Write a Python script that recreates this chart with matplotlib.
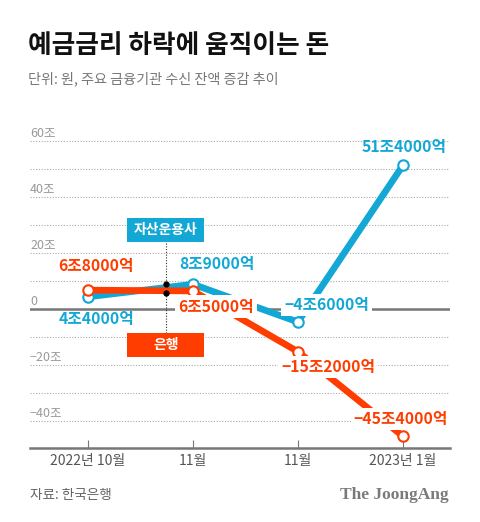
import matplotlib
matplotlib.use("Agg")
import matplotlib.pyplot as plt
from matplotlib.patches import Rectangle

plt.rcParams['font.family'] = ['Noto Sans CJK KR', 'DejaVu Sans']

months = ["2022년 10월", "11월", "11월", "2023년 1월"]
asset_mgmt = [4.4, 8.9, -4.6, 51.4]      # 자산운용사 (조원)
banks = [6.8, 6.5, -15.2, -45.4]          # 은행 (조원)
asset_labels = ["4조4000억", "8조9000억", "−4조6000억", "51조4000억"]
bank_labels = ["6조8000억", "6조5000억", "−15조2000억", "−45조4000억"]
yticks = [60, 40, 20, 0, -20, -40]
ytick_labels = ["60조", "40조", "20조", "0", "−20조", "−40조"]

BLUE = "#12a7d5"
RED = "#ff3d00"
GRAY = "#777777"

fig = plt.figure(figsize=(4.8, 5.22), dpi=100)
ax = fig.add_axes([30/480, (522-448)/522, 420/480, 318/522])
ax.set_xlim(-0.552, 3.448)
ax.set_ylim(-49.6, 64)

# grid lines
for v in range(-40, 61, 10):
    if v == 0:
        continue
    ax.axhline(v, color="#aaaaaa", lw=0.8, ls=(0, (1, 1.5)), zorder=1)
ax.axhline(0, color=GRAY, lw=1.8, zorder=1)

for v, lab in zip(yticks, ytick_labels):
    ax.text(0, v + 2.6, lab, transform=ax.get_yaxis_transform(), ha="left", va="center",
            fontsize=9, color="#999999")

x = list(range(len(months)))

# vertical marker line
vx = 0.743
ax.plot([vx, vx], [-8.5, 24], color="#333333", lw=0.8, ls=(0, (1, 1.5)), zorder=2)

ax.plot(x, asset_mgmt, color=BLUE, lw=4.8, solid_capstyle="butt", zorder=3)
ax.plot(x, banks, color=RED, lw=4.8, solid_capstyle="butt", zorder=4)
ax.plot(x, asset_mgmt, ls="none", marker="o", ms=7.5, mfc="white", mec=BLUE, mew=1.5, zorder=6)
ax.plot(x, banks, ls="none", marker="o", ms=7.5, mfc="white", mec=RED, mew=1.5, zorder=6)

# black dots on vertical line
b_y = asset_mgmt[0] + (asset_mgmt[1] - asset_mgmt[0]) * vx
r_y = banks[0] + (banks[1] - banks[0]) * vx
ax.plot([vx, vx], [b_y + 1.2, r_y - 0.9], ls="none", marker="o", ms=3.5, color="black", zorder=7)

# series name boxes
bw, bh = 0.733, 8.6
ax.add_patch(Rectangle((vx - bw/2, 28.2 - bh/2), bw, bh, fc=BLUE, ec="none", zorder=8))
ax.add_patch(Rectangle((vx - bw/2, -12.7 - bh/2), bw, bh, fc=RED, ec="none", zorder=8))
ax.text(vx, 28.2, "자산운용사", ha="center", va="center", fontsize=10, fontweight="bold",
        color="white", zorder=9)
ax.text(vx, -12.7, "은행", ha="center", va="center", fontsize=10, fontweight="bold",
        color="white", zorder=9)

lab_kw = dict(ha="center", va="center", fontsize=11.3, fontweight="bold", zorder=9)
bg = dict(boxstyle="square,pad=0.2", fc="white", ec="none")
# value labels (positions in data coords)
ax.text(0.08, 15.5, bank_labels[0], color=RED, **lab_kw)
ax.text(0.08, -3.6, asset_labels[0], color=BLUE, **lab_kw)
ax.text(1.23, 16.3, asset_labels[1], color=BLUE, **lab_kw)
ax.text(1.22, 0.9, bank_labels[1], color=RED, bbox=bg, **lab_kw)
ax.text(2.27, 1.4, asset_labels[2], color=BLUE, bbox=bg, **lab_kw)
ax.text(2.29, -20.7, bank_labels[2], color=RED, bbox=bg, **lab_kw)
ax.text(3.01, 57.9, asset_labels[3], color=BLUE, **lab_kw)
ax.text(2.98, -39.3, bank_labels[3], color=RED, bbox=bg, **lab_kw)

for s in ["top", "right", "left"]:
    ax.spines[s].set_visible(False)
ax.spines["bottom"].set_color(GRAY)
ax.spines["bottom"].set_linewidth(1.8)
ax.spines["bottom"].set_position(("data", -49.6))
ax.set_yticks([])
ax.set_xticks(x)
ax.set_xticklabels(months, fontsize=10, color="#555555")
ax.tick_params(axis="x", direction="in", length=6, width=0.8, color=GRAY, pad=4)

fig.text(28/480, 1 - 45/522, "예금금리 하락에 움직이는 돈", fontsize=18.5, fontweight="heavy",
         color="#111111", ha="left", va="center")
fig.text(28/480, 1 - 79/522, "단위: 원, 주요 금융기관 수신 잔액 증감 추이", fontsize=10.2,
         color="#777777", ha="left", va="center")
fig.text(30/480, 1 - 495/522, "자료: 한국은행", fontsize=9.8, color="#666666",
         ha="left", va="center")
fig.text(449/480, 1 - 495/522, "The JoongAng", fontsize=12.5, fontweight="bold",
         family="Liberation Serif", color="#7a7a7a", ha="right", va="center")

fig.savefig("out.png", dpi=100, facecolor="white")
